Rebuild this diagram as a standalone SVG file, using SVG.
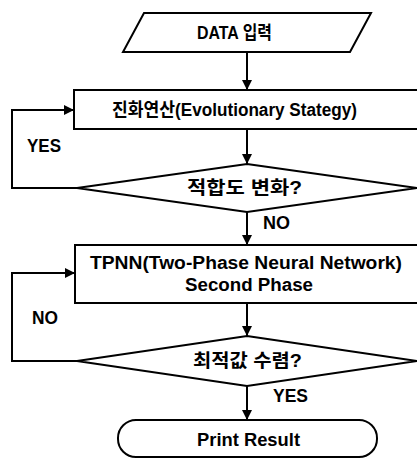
<svg xmlns="http://www.w3.org/2000/svg" width="417" height="458" viewBox="0 0 417 458">
  <defs>
    <marker id="arrow" viewBox="0 0 10 10" refX="10" refY="5" markerWidth="11" markerHeight="10" markerUnits="userSpaceOnUse" orient="auto">
      <path d="M0,0 L10,5 L0,10 Z" fill="#000"/>
    </marker>
    <style>
      .shape { fill: #fff; stroke: #000; stroke-width: 2; }
      .edge { fill: none; stroke: #000; stroke-width: 2; marker-end: url(#arrow); }
      .label { font-family: "Liberation Sans", "Noto Sans CJK KR", sans-serif; font-size: 18px; font-weight: bold; fill: #000; }
    </style>
  </defs>
  <rect width="417" height="458" fill="#fff"/>

  <!-- flow lines and branch labels -->
  <g id="connectors">
    <line class="edge" x1="247" y1="52" x2="247" y2="90"/>
    <line class="edge" x1="247" y1="129" x2="247" y2="164"/>
    <line class="edge" x1="247" y1="212" x2="247" y2="245"/>
    <line class="edge" x1="247" y1="303" x2="247" y2="336"/>
    <line class="edge" x1="247" y1="386" x2="247" y2="420"/>
    <polyline class="edge" points="77,188 12,188 12,110 74,110"/>
    <polyline class="edge" points="77,361 12,361 12,273 75,273"/>
    <text class="label" x="27" y="152" textLength="34" lengthAdjust="spacingAndGlyphs">YES</text>
    <text class="label" x="263" y="229" textLength="27" lengthAdjust="spacingAndGlyphs">NO</text>
    <text class="label" x="32" y="324" textLength="26" lengthAdjust="spacingAndGlyphs">NO</text>
    <text class="label" x="273" y="402" textLength="35" lengthAdjust="spacingAndGlyphs">YES</text>
  </g>

  <g id="input">
    <polygon class="shape" points="144,13 371,13 350,52 123,52"/>
    <text class="label" x="197" y="39" textLength="75" lengthAdjust="spacingAndGlyphs">DATA 입력</text>
  </g>

  <g id="evolution">
    <rect class="shape" x="74" y="90" width="360" height="39"/>
    <text class="label" x="112" y="116" textLength="245" lengthAdjust="spacingAndGlyphs">진화연산(Evolutionary Stategy)</text>
  </g>

  <g id="fitness-check">
    <polygon class="shape" points="247,164 417,188 247,212 77,188"/>
    <text class="label" x="187" y="194" textLength="115" lengthAdjust="spacingAndGlyphs">적합도 변화?</text>
  </g>

  <g id="tpnn">
    <rect class="shape" x="75" y="245" width="360" height="58"/>
    <text class="label" x="90" y="269" textLength="312" lengthAdjust="spacingAndGlyphs">TPNN(Two-Phase Neural Network)</text>
    <text class="label" x="185" y="291" textLength="128" lengthAdjust="spacingAndGlyphs">Second Phase</text>
  </g>

  <g id="convergence-check">
    <polygon class="shape" points="247,336 417,361 247,386 77,361"/>
    <text class="label" x="193" y="367" textLength="109" lengthAdjust="spacingAndGlyphs">최적값 수렴?</text>
  </g>

  <g id="result">
    <rect class="shape" x="118" y="420" width="259" height="37" rx="18" ry="18"/>
    <text class="label" x="197" y="446" textLength="103" lengthAdjust="spacingAndGlyphs">Print Result</text>
  </g>
</svg>
